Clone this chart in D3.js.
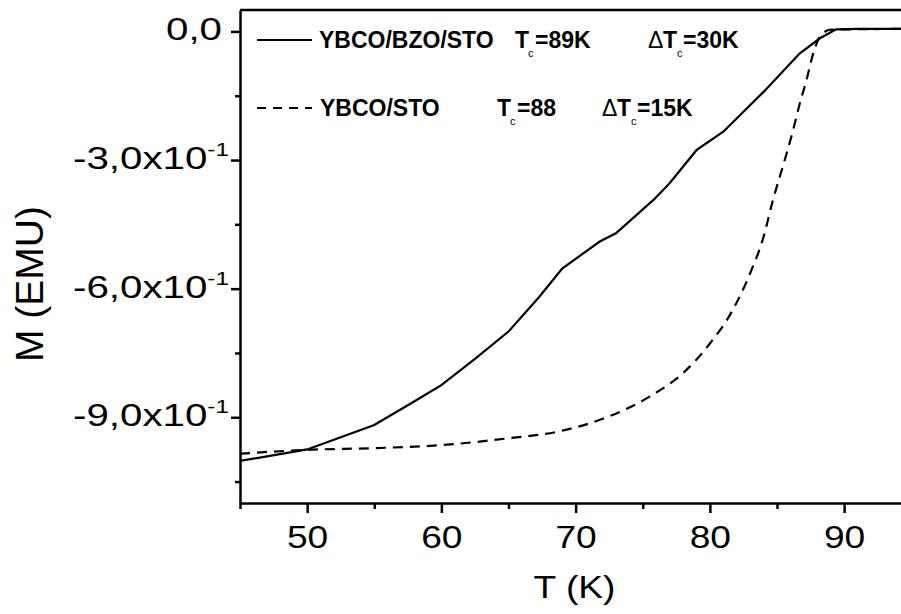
<!DOCTYPE html>
<html>
<head>
<meta charset="utf-8">
<script src="https://cdn.jsdelivr.net/npm/d3@7"></script>
<style>
  html, body { margin: 0; padding: 0; background: #fff; }
  svg { display: block; }
  text { font-family: "Liberation Sans", Arial, sans-serif; fill: #000; }
</style>
</head>
<body>
<svg id="chart" width="901" height="614"></svg>
<script>
// Magnetisation vs temperature for two films
const tempBZO = [45, 50, 55, 57.5, 60, 62.5, 65, 67.3, 69, 71.8, 73, 75.8, 77, 79, 81, 84, 86.7, 88.2, 89.4, 91, 94.5];
const magBZO  = [-1.002, -0.975, -0.918, -0.872, -0.825, -0.764, -0.700, -0.619, -0.553, -0.490, -0.471, -0.393, -0.354, -0.277, -0.234, -0.141, -0.051, -0.016, 0.005, 0.006, 0.006];

const tempSTO = [45, 50, 55, 60, 65, 68.6, 72.4, 75.5, 78, 80, 81.7, 83, 84, 84.7, 85.5, 86.2, 86.7, 87.2, 87.7, 88.3, 89, 94.5];
const magSTO  = [-0.985, -0.976, -0.972, -0.965, -0.949, -0.934, -0.899, -0.852, -0.797, -0.728, -0.650, -0.564, -0.479, -0.393, -0.308, -0.230, -0.168, -0.113, -0.051, -0.008, 0.004, 0.006];

const xMajorTicks = [50, 60, 70, 80, 90];
const xMinorTicks = [45, 55, 65, 75, 85];
const yMajorTicks = [0, -0.3, -0.6, -0.9];
const yMinorTicks = [-0.15, -0.45, -0.75, -1.05];

const xTitle = "T (K)";
const yTitle = "M (EMU)";

const legendRows = [
  { name: "YBCO/BZO/STO", tc: "=89K", dtc: "=30K", dash: null },
  { name: "YBCO/STO",     tc: "=88",  dtc: "=15K", dash: "9,7" }
];

const svg = d3.select("#chart");

const plotLeft = 240, plotTop = 10, plotBottom = 503;
const x = d3.scaleLinear().domain([45, 95]).range([plotLeft, plotLeft + 50 * 13.425]);
const y = d3.scaleLinear().domain([-1.1, 0.05]).range([plotBottom, plotTop]);
const plotRight = x(95);

const xStretch = 1.18;
const yStretch = 1.28;

// clip region for the curves
svg.append("defs").append("clipPath").attr("id", "plotClip")
  .append("rect")
  .attr("x", plotLeft).attr("y", plotTop)
  .attr("width", plotRight - plotLeft).attr("height", plotBottom - plotTop);

// frame top and right
svg.append("path")
  .attr("d", `M${plotLeft},${plotTop}H${plotRight}V${plotBottom}`)
  .attr("fill", "none").attr("stroke", "#000").attr("stroke-width", 2.5);

// x axis: minor ticks
svg.append("g")
  .attr("transform", `translate(0,${plotBottom})`)
  .call(d3.axisBottom(x).tickValues(xMinorTicks).tickSize(6).tickFormat(""))
  .call(g => g.select(".domain").remove())
  .call(g => g.selectAll(".tick line").attr("stroke-width", 2.5));

// x axis: major ticks + labels
svg.append("g")
  .attr("transform", `translate(0,${plotBottom})`)
  .call(d3.axisBottom(x).tickValues(xMajorTicks).tickSize(10).tickSizeOuter(0).tickFormat(d3.format("d")))
  .call(g => g.select(".domain").attr("stroke-width", 2.5))
  .call(g => g.selectAll(".tick line").attr("stroke-width", 2.5))
  .call(g => g.selectAll(".tick text")
    .attr("y", null).attr("dy", null)
    .attr("transform", `translate(0,45) scale(${xStretch},1)`)
    .attr("text-anchor", "middle")
    .style("font-size", "31.5px")
    .attr("fill", "#000"));

// y axis: minor ticks
svg.append("g")
  .attr("transform", `translate(${plotLeft},0)`)
  .call(d3.axisLeft(y).tickValues(yMinorTicks).tickSize(5).tickFormat(""))
  .call(g => g.select(".domain").remove())
  .call(g => g.selectAll(".tick line").attr("stroke-width", 2.5));

// y axis: major ticks + labels in "m,nx10^-1" form
svg.append("g")
  .attr("transform", `translate(${plotLeft},0)`)
  .call(d3.axisLeft(y).tickValues(yMajorTicks).tickSize(9).tickSizeOuter(0).tickFormat(""))
  .call(g => g.select(".domain").attr("stroke-width", 2.5))
  .call(g => g.selectAll(".tick line").attr("stroke-width", 2.5))
  .call(g => g.selectAll(".tick").each(function(d) {
    const t = d3.select(this).append("text")
      .attr("text-anchor", "end")
      .style("font-size", "31.5px");
    if (d === 0) {
      t.attr("transform", `translate(-18,8.5) scale(${yStretch},1)`).text("0,0");
    } else {
      const mant = (d * 10).toFixed(1).replace(".", ",");
      t.attr("transform", `translate(-11,8.5) scale(${yStretch},1)`);
      t.append("tspan").text(mant + "x10");
      t.append("tspan").attr("dy", -13).style("font-size", "19px").text("-1");
    }
  }));

// axis titles
svg.append("text")
  .attr("transform", `translate(574.5,598) scale(${xStretch},1)`)
  .attr("text-anchor", "middle")
  .style("font-size", "31.5px")
  .text(xTitle);

svg.append("text")
  .attr("transform", "translate(43,284) rotate(-90)")
  .attr("text-anchor", "middle")
  .style("font-size", "39px")
  .text(yTitle);

// curves
const line = d3.line().x(d => x(d[0])).y(d => y(d[1]));
const plot = svg.append("g").attr("clip-path", "url(#plotClip)");

plot.append("path")
  .datum(d3.zip(tempSTO, magSTO))
  .attr("d", line.curve(d3.curveMonotoneX))
  .attr("fill", "none").attr("stroke", "#000")
  .attr("stroke-width", 2.2).attr("stroke-dasharray", "10,7");

plot.append("path")
  .datum(d3.zip(tempBZO, magBZO))
  .attr("d", line.curve(d3.curveLinear))
  .attr("fill", "none").attr("stroke", "#000")
  .attr("stroke-width", 2.2);

// legend
const legendY = [48, 116];
const legendX = [
  { name: 319, T: 515, c: 528, tc: 535, d: 648, dT: 663, dc: 677, dtc: 683 },
  { name: 320, T: 497, c: 510, tc: 517, d: 602, dT: 617, dc: 631, dtc: 637 }
];
legendRows.forEach((row, i) => {
  const by = legendY[i], p = legendX[i];
  svg.append("line")
    .attr("x1", 257).attr("x2", 312)
    .attr("y1", by - 8).attr("y2", by - 8)
    .attr("stroke", "#000").attr("stroke-width", 2)
    .attr("stroke-dasharray", row.dash);
  const t = svg.append("text").attr("y", by)
    .style("font-size", "23px").style("font-weight", "bold");
  t.append("tspan").attr("x", p.name).text(row.name);
  t.append("tspan").attr("x", p.T).text("T");
  t.append("tspan").attr("x", p.c).attr("y", by + 9).style("font-size", "11px").style("font-weight", "normal").text("c");
  t.append("tspan").attr("x", p.tc).attr("y", by).text(row.tc);
  t.append("tspan").attr("x", p.d).style("font-weight", "normal").text("Δ");
  t.append("tspan").attr("x", p.dT).text("T");
  t.append("tspan").attr("x", p.dc).attr("y", by + 9).style("font-size", "11px").style("font-weight", "normal").text("c");
  t.append("tspan").attr("x", p.dtc).attr("y", by).text(row.dtc);
});
</script>
</body>
</html>
